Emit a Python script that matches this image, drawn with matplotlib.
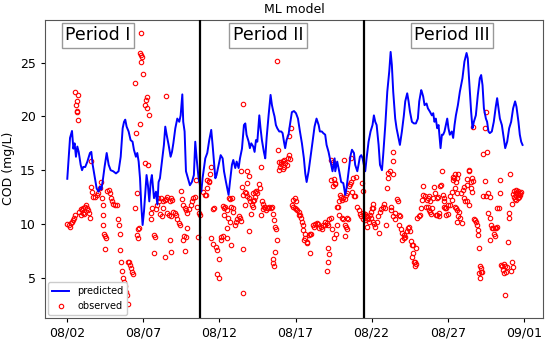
import numpy as np
import pandas as pd
import matplotlib
matplotlib.use("Agg")
import matplotlib.pyplot as plt
import matplotlib.dates as mdates
from matplotlib.lines import Line2D

# time axis: day of August as float (2.0 = 08/02 00:00, 32.0 = 09/01 00:00)
BASE = pd.Timestamp("2021-08-01")

# ---- predicted COD (blue line), vertices ------------------------------------
pred_day = [
    2.00, 2.18, 2.31, 2.40, 2.48, 2.57, 2.66, 2.75, 2.88, 2.97, 3.05, 3.18, 3.32, 3.49, 3.58,
    3.67, 3.80, 3.93, 4.06, 4.15, 4.24, 4.32, 4.45, 4.59, 4.72, 4.85, 5.02, 5.20, 5.37, 5.51,
    5.64, 5.73, 5.81, 5.90, 6.03, 6.16, 6.29, 6.38, 6.51, 6.60, 6.69, 6.78, 6.86, 6.95, 7.04,
    7.13, 7.21, 7.30, 7.39, 7.48, 7.56, 7.70, 7.83, 7.92, 8.00, 8.09, 8.22, 8.35, 8.44, 8.53,
    8.66, 8.79, 8.88, 8.97, 9.10, 9.23, 9.36, 9.45, 9.56, 9.62, 9.71, 9.80, 9.93, 10.06, 10.19,
    10.32, 10.41, 10.50, 10.63, 10.72, 10.81, 10.89, 10.98, 11.07, 11.20, 11.33, 11.46, 11.55,
    11.64, 11.73, 11.81, 11.95, 12.08, 12.21, 12.30, 12.43, 12.60, 12.69, 12.82, 12.91, 13.04,
    13.13, 13.26, 13.35, 13.48, 13.61, 13.70, 13.78, 13.92, 14.00, 14.09, 14.22, 14.31, 14.40,
    14.49, 14.62, 14.70, 14.79, 14.92, 15.01, 15.10, 15.23, 15.32, 15.36, 15.45, 15.54, 15.62,
    15.71, 15.80, 15.93, 16.06, 16.15, 16.24, 16.32, 16.41, 16.54, 16.63, 16.76, 16.90, 17.03,
    17.16, 17.29, 17.42, 17.55, 17.64, 17.73, 17.86, 17.99, 18.12, 18.25, 18.38, 18.52, 18.60,
    18.73, 18.82, 18.95, 19.04, 19.17, 19.30, 19.43, 19.57, 19.61, 19.74, 19.87, 20.00, 20.14,
    20.27, 20.35, 20.49, 20.62, 20.71, 20.84, 20.92, 21.06, 21.14, 21.23, 21.32, 21.41, 21.49,
    21.58, 21.67, 21.80, 21.93, 22.06, 22.15, 22.24, 22.33, 22.46, 22.55, 22.68, 22.76, 22.90,
    23.03, 23.16, 23.25, 23.33, 23.42, 23.55, 23.64, 23.77, 23.86, 23.99, 24.12, 24.21, 24.34,
    24.43, 24.52, 24.65, 24.78, 24.91, 25.04, 25.13, 25.26, 25.30, 25.39, 25.48, 25.61, 25.70,
    25.83, 25.96, 26.05, 26.13, 26.22, 26.31, 26.40, 26.53, 26.62, 26.70, 26.79, 26.88, 26.97,
    27.05, 27.14, 27.27, 27.36, 27.45, 27.54, 27.67, 27.80, 27.97, 28.10, 28.24, 28.32, 28.46,
    28.54, 28.63, 28.72, 28.85, 28.98, 29.11, 29.20, 29.29, 29.38, 29.51, 29.59, 29.68, 29.77,
    29.90, 30.03, 30.16, 30.25, 30.34, 30.43, 30.56, 30.65, 30.78, 30.91, 31.04, 31.17, 31.30,
    31.43, 31.52, 31.65, 31.74, 31.83, 31.92,
]
pred_cod = [
    14.2, 18.0, 18.65, 17.0, 17.5, 16.25, 17.2, 16.7, 15.5, 15.0, 15.3, 15.3, 15.8, 16.6, 16.7,
    15.5, 14.4, 13.3, 13.0, 13.5, 13.2, 13.9, 15.3, 16.6, 15.5, 15.0, 14.9, 14.7, 14.9, 16.25,
    18.9, 19.5, 19.7, 19.05, 18.6, 17.8, 17.65, 16.9, 16.25, 16.6, 15.8, 14.25, 11.8, 9.9, 11.15,
    13.0, 14.55, 13.6, 12.1, 13.9, 14.55, 12.4, 13.0, 11.8, 13.9, 14.25, 15.8, 17.35, 19.05, 18.3,
    17.35, 16.25, 16.7, 17.5, 18.9, 19.8, 19.5, 20.1, 22.05, 19.5, 18.6, 14.9, 14.25, 13.6, 13.9,
    14.55, 17.65, 16.1, 14.25, 13.6, 13.0, 14.25, 15.2, 16.1, 16.6, 17.8, 18.75, 17.35,
    15.8, 14.25, 14.55, 15.5, 16.4, 16.1, 14.9, 13.9, 12.7, 13.9, 15.5, 15.95, 15.2,
    15.8, 15.2, 16.1, 17.0, 19.2, 19.35, 18.3, 17.65, 17.05, 17.5, 17.2, 16.7, 17.8,
    17.65, 20.1, 18.9, 17.8, 16.7, 16.1, 18.0, 20.1, 21.4, 22.0, 21.05, 20.45, 20.0,
    19.2, 18.9, 18.6, 18.6, 18.45, 17.65, 17.05, 17.8, 18.3, 19.2, 20.4, 20.5, 20.3,
    19.8, 18.6, 17.5, 16.1, 14.7, 13.9, 14.9, 16.25, 17.65, 19.05, 19.8, 19.2, 18.6,
    18.6, 18.45, 18.3, 17.35, 16.7, 15.8, 14.9, 16.1, 14.9, 15.8, 14.9, 13.9, 13.8,
    12.7, 13.3, 14.9, 16.4, 16.9, 16.6, 15.5, 14.9, 15.5, 16.25, 16.4, 16.1, 15.5,
    14.9, 16.1, 17.65, 18.6, 19.2, 20.1, 19.5, 19.2, 17.35, 15.5, 15.0, 16.4, 19.2,
    22.3, 24.2, 26.0, 24.8, 22.3, 19.8, 18.9, 18.0, 17.35, 18.6, 20.1, 21.4, 22.15,
    21.4, 20.45, 19.5, 19.35, 19.35, 19.8, 21.4, 22.45, 22.3, 21.85, 21.05, 21.2, 20.75,
    20.45, 20.1, 20.3, 19.5, 19.8, 18.9, 19.2, 17.05, 18.3, 18.3, 18.6, 19.2, 19.8,
    18.9, 18.3, 18.6, 18.0, 19.2, 20.1, 21.05, 22.3, 23.55, 25.1, 25.9, 25.4, 22.3,
    20.45, 18.9, 19.5, 20.1, 22.0, 23.55, 23.85, 22.9, 20.75, 19.8, 19.5, 18.6, 18.45,
    18.6, 19.5, 20.9, 21.7, 20.75, 19.8, 19.2, 18.3, 17.05, 17.65, 18.9, 19.5, 20.75,
    21.4, 20.9, 19.5, 18.3, 17.65, 17.35,
]

# ---- observed COD (red open circles) ----------------------------------------
obs_day = [
    2.00, 2.09, 2.18, 2.26, 2.31, 2.35, 2.44, 2.48, 2.51, 2.62, 2.72, 2.57, 2.66, 2.61, 2.68,
    2.79, 2.88, 2.97, 3.05, 3.14, 3.23, 3.27, 3.36, 3.45, 2.88, 3.01, 3.10, 3.49, 3.53, 3.53,
    3.62, 3.71, 3.84, 3.93, 4.02, 4.15, 4.19, 4.28, 4.37, 4.32, 4.37, 4.41, 4.50, 4.54, 4.50,
    4.63, 4.76, 4.81, 4.85, 4.94, 5.02, 5.16, 5.24, 5.33, 5.42, 5.46, 5.46, 5.55, 5.59, 5.68,
    5.73, 5.81, 5.86, 5.90, 5.99, 5.99, 6.08, 6.12, 6.21, 6.25, 6.29, 6.84, 6.78, 6.86, 6.91,
    6.82, 6.99, 6.47, 7.26, 7.17, 7.13, 7.21, 7.35, 6.78, 6.51, 7.13, 7.30, 6.60, 6.43, 7.56,
    7.52, 7.48, 6.73, 6.65, 6.56, 6.65, 7.70, 7.70,
    7.78, 7.83, 7.92, 7.96, 8.05, 8.09, 8.18, 8.22, 8.31, 8.31, 8.40, 8.44, 8.46, 8.48, 8.57,
    8.57, 8.66, 8.75, 8.75, 8.79, 8.79, 8.84, 8.88, 8.97, 9.05, 9.14, 9.23, 9.32, 9.41, 9.45,
    9.51, 9.58, 9.62, 9.67, 9.73, 9.76, 9.80, 9.80, 9.84, 9.89, 10.02, 10.11, 10.19, 10.28,
    10.39, 10.46, 10.54, 10.61, 10.63, 10.72, 10.94, 11.03, 11.11, 11.20, 11.20, 11.29, 11.33,
    11.38, 11.46, 11.46, 11.55, 11.55, 11.64, 11.77, 11.86, 11.86, 11.95, 11.95, 12.08, 12.12,
    12.21, 12.21, 12.30, 12.30, 12.38, 12.47, 12.52, 12.52, 12.56, 12.60, 12.69, 12.69, 12.73,
    12.78, 12.82, 12.87, 12.91, 13.00, 13.08, 13.17, 13.26, 13.35, 13.43, 13.43, 13.48, 13.52,
    13.57, 13.57, 13.57,
    13.70, 13.70, 13.74, 13.78, 13.83, 13.83, 13.92, 13.92, 13.96, 14.00, 14.09, 14.14, 14.18,
    14.22, 14.22, 14.27, 14.31, 14.35, 14.40, 14.44, 14.57, 14.66, 14.70, 14.75, 14.79, 14.88,
    14.88, 14.92, 15.01, 15.06, 15.10, 15.19, 15.27, 15.36, 15.45, 15.49, 15.54, 15.54, 15.58,
    15.58, 15.62, 15.62, 15.71, 15.76, 15.80, 15.84, 15.89, 15.93, 15.97, 16.02, 16.06, 16.15,
    16.15, 16.24, 16.24, 16.32, 16.41, 16.50, 16.59, 16.59, 16.63, 16.68, 16.76, 16.85, 16.85,
    16.94, 16.94, 17.03, 17.03, 17.11, 17.20, 17.25, 17.29, 17.38, 17.42, 17.46, 17.51, 17.55,
    17.60, 17.64, 17.73, 17.77, 17.86, 17.95, 17.95, 18.03, 18.12, 18.21, 18.30, 18.38, 18.47,
    18.56, 18.65, 18.73, 18.82, 18.91, 18.95, 19.04, 19.08, 19.13, 19.13, 19.13, 19.17, 19.22,
    19.30, 19.35, 19.35, 19.44, 19.52,
    19.52, 19.57, 19.48, 19.39, 19.61, 19.65, 19.70, 19.74, 19.79, 19.83, 19.87, 19.92, 20.00,
    20.05, 20.05, 20.14, 20.14, 20.18, 20.22, 20.22, 20.27, 20.31, 20.31, 20.35, 20.40, 20.40,
    20.44, 20.49, 20.57, 20.62, 20.66, 20.71, 20.75, 20.84, 20.92, 20.97, 21.06, 21.14, 21.23,
    21.32, 21.36, 21.41, 21.41, 21.45, 21.49, 21.54, 21.58, 21.67, 21.71, 21.76, 21.80, 21.89,
    21.93, 21.98, 22.02, 22.06, 22.11, 22.11, 22.15, 22.24, 22.33, 22.41, 22.46, 22.55, 22.63,
    22.72, 22.81, 22.85, 22.94, 23.03, 23.07, 23.11, 23.20, 23.25, 23.29, 23.38, 23.42, 23.42,
    23.42, 23.51, 23.55, 23.64, 23.73, 23.77, 23.82, 23.86, 23.95, 24.03, 24.03, 24.12, 24.12,
    24.21, 24.30, 24.39, 24.47, 24.52, 24.60, 24.65, 24.65, 24.69, 24.74, 24.78, 24.87, 24.87,
    24.91, 24.95, 25.00, 25.09, 25.17, 25.26, 25.30, 25.35, 25.39,
    25.52, 25.56, 25.61, 25.70, 25.70, 25.78, 25.78, 25.83, 25.83, 25.91, 26.00, 26.05, 26.13,
    26.18, 26.22, 26.27, 26.31, 26.35, 26.40, 26.44, 26.48, 26.57, 26.62, 26.66, 26.75, 26.75,
    26.79, 26.83, 26.88, 26.92, 27.01, 27.05, 27.14, 27.18, 27.27, 27.27, 27.32, 27.36, 27.40,
    27.45, 27.45, 27.49, 27.54, 27.54, 27.58, 27.58, 27.62, 27.62, 27.67, 27.71, 27.75, 27.84,
    27.89, 27.93, 28.02, 28.06, 28.10, 28.15, 28.24, 28.28, 28.28, 28.37, 28.41, 28.41, 28.50,
    28.54, 28.59, 28.63, 28.67, 28.67, 28.76, 28.81, 28.89, 28.94, 28.98, 29.02, 29.07, 29.07,
    29.11, 29.11, 29.16, 29.20, 29.24, 29.29, 29.33, 29.42, 29.46, 29.55, 29.55, 29.59, 29.68,
    29.68, 29.77, 29.77, 29.81, 29.86, 29.90, 29.99, 30.03, 30.08, 30.12, 30.16, 30.21, 30.25,
    30.34, 30.43, 30.47, 30.51, 30.60, 30.65, 30.69, 30.73, 30.78, 30.78, 30.82, 30.91, 30.95,
    31.00, 31.04, 31.08, 31.17, 31.21, 31.21, 31.26, 31.30, 31.35, 31.39, 31.43, 31.48, 31.48,
    31.52, 31.57, 31.61, 31.65, 31.65, 31.70, 31.74, 31.78, 31.83,
]
obs_cod = [
    10.0, 9.9, 9.75, 10.05, 10.2, 10.4, 10.6, 10.8, 22.3, 21.4, 22.0, 21.1, 20.5, 20.4, 19.7,
    11.15, 11.4, 11.3, 11.5, 11.6, 11.8, 11.5, 11.3, 11.0, 10.85, 11.0, 10.9, 10.6, 15.9, 13.4,
    13.0, 12.5, 12.5, 12.7, 12.85, 13.3, 13.9, 12.4, 11.8, 10.85, 9.9, 9.1, 8.9, 8.65, 7.7,
    13.1, 13.2, 12.85, 12.4, 12.1, 11.9, 11.8, 11.8, 10.5, 9.9, 9.1, 7.6, 6.5, 5.6, 4.95,
    4.6, 4.2, 3.7, 3.4, 2.6, 6.5, 6.5, 6.2, 5.9, 5.5, 5.3, 27.8, 25.9, 25.7, 25.5,
    25.1, 23.9, 23.1, 21.85, 21.5, 21.1, 20.8, 20.1, 19.3, 18.5, 15.7, 15.5, 12.85, 11.5, 11.5,
    11.0, 10.5, 9.6, 9.5, 9.0, 8.7, 9.0, 7.3,
    8.8, 11.4, 11.8, 12.45, 12.1, 10.9, 12.4, 10.7, 12.1, 11.5, 12.2, 6.9, 21.9, 12.3, 12.5,
    11.0, 10.85, 12.1, 8.5, 12.4, 7.4, 10.7, 12.2, 11.1, 11.0, 10.85, 10.5, 10.05, 9.9, 13.1,
    12.3, 8.5, 11.8, 8.9, 11.5, 7.5, 11.3, 8.8, 9.6, 11.0, 11.4, 11.8, 12.1, 12.4,
    12.5, 14.1, 11.6, 8.8, 11.0, 10.85, 13.0, 12.7, 12.7, 13.3, 14.1, 13.9, 14.0,
    14.6, 15.3, 8.7, 11.4, 8.1, 11.5, 7.9, 7.6, 5.3, 6.7, 5.0, 8.5, 8.8,
    11.7, 8.9, 11.5, 10.85, 11.6, 11.3, 9.6, 8.7, 10.6, 12.4, 12.3, 10.2, 8.05,
    11.6, 12.45, 11.5, 11.15, 9.9, 10.2, 10.5, 10.7, 10.6, 10.3, 14.9, 13.4, 12.7,
    21.2, 3.55, 7.7,
    13.0, 11.8, 12.85, 13.8, 14.9, 12.6, 14.5, 12.4, 9.35, 12.1, 10.9, 11.8, 11.6,
    12.85, 12.1, 12.2, 13.0, 12.5, 13.1, 12.85, 13.7, 13.3, 15.3, 10.85, 12.1, 11.9,
    11.4, 11.6, 11.6, 11.3, 11.45, 11.5, 11.6, 11.5, 11.6, 6.75, 10.9, 6.35, 10.4,
    6.1, 9.75, 7.4, 9.5, 8.5, 25.2, 16.9, 15.8, 15.0, 15.3, 15.6, 15.8, 15.9,
    15.1, 15.95, 15.3, 15.7, 15.5, 16.1, 18.2, 16.4, 16.05, 18.9, 11.8, 12.2, 11.6,
    12.4, 11.5, 12.1, 11.4, 11.3, 11.15, 10.8, 10.85, 10.6, 10.2, 9.9, 9.45, 8.5,
    9.1, 8.65, 8.35, 8.2, 9.0, 9.05, 7.3, 9.1, 9.9, 9.75, 10.0, 10.05, 10.0,
    9.65, 9.75, 9.55, 9.9, 9.9, 10.2, 10.05, 5.6, 9.9, 7.8, 6.5, 7.2, 10.5,
    10.6, 15.95, 14.1, 15.8, 8.65,
    14.2, 13.8, 13.5, 9.5, 13.7, 9.1, 11.6, 9.9, 11.6, 12.1, 10.8, 12.7, 12.5,
    12.2, 10.6, 12.45, 10.45, 15.95, 12.3, 9.9, 8.9, 12.7, 9.7, 10.6, 12.85, 9.5,
    10.5, 13.5, 13.7, 16.1, 13.9, 13.0, 14.25, 12.6, 12.6, 14.4, 11.6, 11.3, 10.9,
    10.7, 13.8, 13.1, 11.0, 10.5, 10.85, 10.4, 10.9, 10.7, 9.75, 10.5, 10.2, 10.85,
    11.15, 10.6, 11.5, 10.2, 11.9, 11.5, 10.0, 9.75, 10.2, 10.7, 9.2, 11.15, 11.4,
    11.6, 11.9, 11.45, 9.9, 13.3, 14.7, 14.3, 14.9, 11.3, 11.6, 14.6, 16.7, 15.9,
    10.7, 11.0, 10.5, 12.3, 12.1, 10.85, 9.9, 10.7, 9.5, 9.2, 8.5, 9.0, 8.65,
    8.8, 9.35, 9.65, 9.75, 9.3, 8.4, 8.05, 6.95, 7.3, 8.0, 6.5, 6.45, 6.1,
    6.25, 7.75, 10.6, 10.7, 10.85, 11.45, 12.2, 12.7, 13.5,
    12.6, 11.6, 12.2, 12.45, 11.6, 12.6, 11.3, 12.1, 11.15, 10.9, 11.5, 12.4, 13.4,
    12.85, 10.85, 12.45, 10.8, 12.5, 10.7, 11.0, 13.5, 13.6, 14.9, 12.7, 12.4, 12.1,
    11.6, 11.45, 10.85, 11.5, 11.75, 10.9, 11.75, 12.6, 13.0, 12.2, 14.1, 14.4, 14.25,
    14.6, 11.6, 13.3, 13.9, 11.5, 12.85, 10.2, 14.25, 11.3, 10.7, 14.6, 11.1, 10.6,
    12.85, 10.05, 13.2, 12.4, 13.4, 12.1, 13.6, 14.2, 12.15, 14.9, 15.0, 11.8, 13.9,
    13.3, 13.0, 14.3, 19.05, 14.0, 10.5, 10.4, 10.2, 9.9, 9.45, 9.0, 7.75, 5.4,
    6.1, 5.0, 5.55, 5.9, 5.5, 16.5, 12.6, 14.0, 18.9, 20.45, 12.6, 16.7, 12.85,
    11.0, 10.6, 8.5, 12.55, 9.9, 9.65, 9.65, 9.1, 9.6, 8.9, 9.65, 11.5, 9.75,
    11.45, 14.1, 12.85, 6.2, 6.1, 5.7, 6.25, 5.4, 6.05, 3.4, 5.55, 5.95, 8.35,
    11.0, 10.6, 14.6, 5.6, 11.9, 6.45, 6.0, 12.75, 12.55, 13.05, 12.3, 13.15, 12.85,
    12.25, 13.0, 12.45, 13.05, 12.7, 12.55, 12.85, 12.7, 13.0,
]

period_bounds = [10.72, 21.47]
period_labels = ["Period I", "Period II", "Period III"]
period_label_x = [0.106, 0.447, 0.817]
tick_days = [2, 7, 12, 17, 22, 27, 32]


def to_time(days):
    return BASE + pd.to_timedelta(np.asarray(days, dtype=float) - 1.0, unit="D")


fig = plt.figure(figsize=(5.5, 3.39), dpi=100)
ax = fig.add_axes([0.0818, 0.0628, 0.9062, 0.8792])

ax.plot(to_time(pred_day), pred_cod, color="blue", lw=1.4, label="predicted", zorder=3)
ax.plot(to_time(obs_day), obs_cod, ls="none", marker="o", ms=3.2, mfc="none",
        mec="red", mew=0.8, label="observed", zorder=2)

for b in period_bounds:
    ax.axvline(to_time([b])[0], color="black", lw=1.6, zorder=4)

for lab, xa in zip(period_labels, period_label_x):
    ax.text(xa, 0.947, lab, transform=ax.transAxes, ha="center", va="center",
            fontsize=12.5, zorder=5,
            bbox=dict(boxstyle="square,pad=0.2", fc="white", ec="#999999", lw=1.0))

ax.set_xlim(to_time([0.535])[0], to_time([33.29])[0])
ax.set_ylim(1.28, 29.0)
ax.set_xticks(to_time(tick_days))
ax.xaxis.set_major_formatter(mdates.DateFormatter("%m/%d"))
ax.set_yticks([5, 10, 15, 20, 25])
ax.tick_params(labelsize=9, length=3, width=0.8)
ax.set_ylabel("COD (mg/L)", fontsize=9)
ax.set_title("ML model", fontsize=9, pad=5)
for sp in ax.spines.values():
    sp.set_color("#555555")
    sp.set_linewidth(0.8)

ax.legend(loc="lower left", fontsize=7, numpoints=1, handlelength=1.8,
          borderaxespad=0.3, framealpha=1.0, edgecolor="#cccccc", fancybox=True)

fig.savefig("out.png", dpi=100)
